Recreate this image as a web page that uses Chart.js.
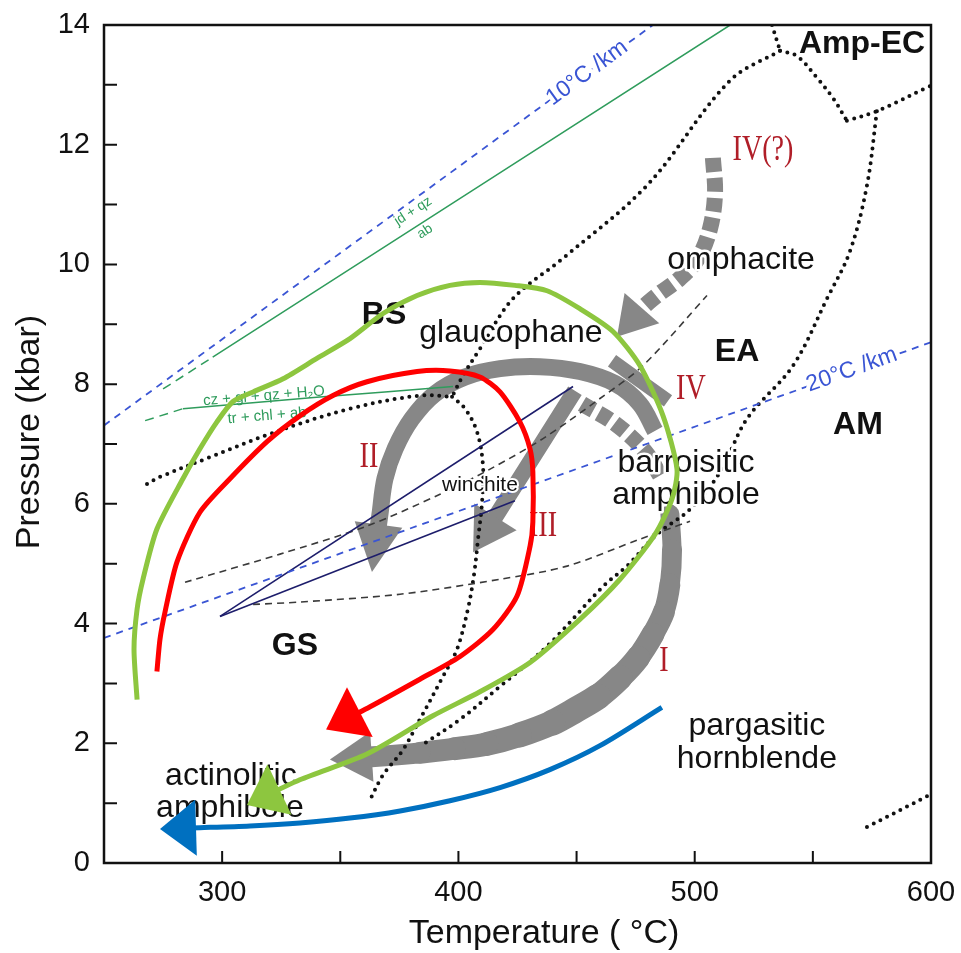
<!DOCTYPE html>
<html lang="en">
  <head>
    <meta charset="UTF-8" />
    <title>P-T paths</title>
    <script src="https://cdn.jsdelivr.net/npm/chart.js"></script>
    <style>
      html, body { margin: 0; padding: 0; background: #fff; }
    </style>
  </head>
  <body>
    <canvas id="ptChart" width="961" height="953"></canvas>

    <script>
      // all values are [temperature °C, pressure kbar]
      const tempTickLabels = [300, 400, 500, 600];
      const tempTickMarks = [300, 350, 400, 450, 500, 550];
      const pressureTickLabels = [0, 2, 4, 6, 8, 10, 12, 14];
      const pressureTickMarks = [1, 2, 3, 4, 5, 6, 7, 8, 9, 10, 11, 12, 13];

      // geotherms
      const geotherm10 = [[250, 7.31], [482.3, 14]];
      const geotherm20 = [[250, 3.76], [600, 8.7]];

      // reactions
      const jdQzAbDashed = [[275, 7.92], [296, 8.45]];
      const jdQzAb = [[296, 8.45], [515, 14]];
      const czGlDashed = [[267.4, 7.39], [283.4, 7.59]];
      const czGl = [[283.4, 7.59], [340, 7.78], [397.7, 7.96]];

      // facies boundaries (dotted)
      const bsGsDots = [[268.2, 6.33], [273.7, 6.45], [294.9, 6.78], [320.3, 7.17], [354.1, 7.59], [383.7, 7.81], [397.3, 7.79]];
      const winchiteDots = [[397.3, 7.79], [402.8, 7.59], [407.9, 7.2], [410.4, 6.63], [410.0, 6.03], [408.3, 5.41], [406.6, 4.82],
        [404.0, 4.24], [399.4, 3.57], [393.5, 3.12], [383.7, 2.4], [376.5, 1.89], [368.1, 1.47], [362.6, 1.06]];
      const bsEaDots = [[536.1, 13.57], [514.9, 13.07], [479.8, 11.32], [444.2, 10.1], [423.1, 9.43], [409.1, 8.59], [401.9, 8.14], [397.3, 7.79]];
      const ampEcTopDots = [[532.7, 14], [536.1, 13.57]];
      const ampEcLeftDots = [[536.1, 13.57], [543.3, 13.48], [551.7, 13.12], [558.5, 12.78], [564.4, 12.4]];
      const ampEcRightDots = [[564.4, 12.4], [577.1, 12.56], [599.6, 12.98]];
      const eaAmDots = [[577.1, 12.56], [572.9, 11.32], [565.7, 10.22], [556.0, 9.43], [541.6, 8.31], [522.1, 7.42], [510.7, 6.53],
        [498.0, 5.91], [484.0, 5.49], [471.3, 4.96], [461.2, 4.62], [437.5, 3.62], [417.6, 2.95], [400.7, 2.4], [385.0, 1.98]];
      const lowRightDots = [[572.9, 0.6], [599.6, 1.14]];

      // amphibole fields (thin dashed / navy)
      const dashUpper = [[284.3, 4.69], [324.5, 5.16], [361.3, 5.63], [392.2, 6.16], [413.4, 6.58], [435.8, 7.09], [459.9, 7.76], [478.1, 8.31], [505.2, 9.48]];
      const dashLower = [[313.1, 4.32], [332.9, 4.36], [375.3, 4.49], [417.6, 4.74], [446.0, 4.96], [476.8, 5.41], [498.0, 5.71]];
      const navyUpper = [[299.1, 4.12], [448.5, 7.96]];
      const navyLower = [[299.1, 4.12], [423.9, 6.05]];

      // grey P-T paths I-IV
      const pathIVq = [[507.7, 11.78], [508.6, 11.19], [506.5, 10.6], [501.4, 10.1], [493.8, 9.77], [484.0, 9.48], [476.8, 9.23], [467.1, 8.79]];
      const pathIVseg = [[465.0, 8.39], [488.7, 7.72]];
      const pathII = [[483.2, 7.22], [476.8, 7.67], [466.3, 8.01], [451.4, 8.21], [434.5, 8.29], [417.6, 8.26], [402.8, 8.12],
        [390.1, 7.84], [380.3, 7.42], [373.2, 6.92], [368.9, 6.42], [366.8, 5.83], [363.4, 4.86]];
      const pathIII = [[449.3, 7.89], [406.2, 5.19]];
      const pathIVdash = [[452.3, 7.67], [466.3, 7.34], [478.9, 6.88], [486.1, 6.42]];
      const pathI = [[489.5, 5.83], [490.4, 5.24], [489.5, 4.66], [487.0, 4.2], [482.3, 3.82], [476.0, 3.43], [468.4, 3.1],
        [459.1, 2.78], [449.3, 2.55], [440.0, 2.35], [426.0, 2.14], [412.1, 1.99], [398.5, 1.91], [383.7, 1.84], [368.9, 1.79],
        [345.6, 1.73]];

      // coloured paths
      const redPath = [[272.4, 3.2], [273.7, 3.74], [275.8, 4.19], [280.9, 5.03], [290.6, 5.86], [303.3, 6.42], [319.0, 7.04],
        [332.9, 7.47], [346.9, 7.81], [361.3, 8.04], [382.5, 8.21], [396.4, 8.22], [409.1, 8.12], [417.6, 7.87], [426.0, 7.37],
        [430.3, 6.92], [431.5, 6.53], [431.5, 5.7], [430.3, 5.29], [424.8, 4.46], [414.6, 3.9], [400.7, 3.45], [383.7, 3.07],
        [362.6, 2.61], [344.0, 2.23]];
      const greenPath = [[264.0, 2.73], [262.7, 3.57], [264.0, 4.24], [266.5, 4.74], [272.4, 5.58], [283.4, 6.42], [290.6, 6.92],
        [297.8, 7.37], [304.6, 7.71], [313.1, 7.87], [325.8, 8.09], [340.1, 8.43], [354.1, 8.76], [368.1, 9.18], [382.5, 9.48],
        [396.4, 9.65], [409.1, 9.7], [423.9, 9.65], [437.5, 9.56], [451.4, 9.26], [465.4, 8.88], [476.8, 8.31], [486.6, 7.47],
        [492.5, 6.58], [490.4, 6.08], [483.2, 5.49], [468.4, 4.74], [451.4, 4.07], [430.3, 3.35], [409.1, 2.86], [389.2, 2.46],
        [361.3, 1.82], [332.9, 1.39], [310.5, 0.97]];
      const bluePath = [[486.1, 2.6], [459.9, 1.96], [438.7, 1.56], [417.6, 1.26], [396.4, 1.04], [375.3, 0.87], [354.1, 0.75],
        [332.9, 0.67], [311.8, 0.62], [290.6, 0.59], [273.7, 0.57]];

      // text
      const faciesNames = ["Amp-EC", "BS", "EA", "AM", "GS"];
      const faciesAt = [[570.8, 13.53], [368.5, 9.01], [517.9, 8.39], [569.1, 7.17], [330.8, 3.48]];
      const mineralNames = ["omphacite", "glaucophane", "barroisitic", "amphibole", "pargasitic", "hornblende", "actinolitic", "amphibole"];
      const mineralAt = [[519.6, 9.93], [422.2, 8.71], [496.3, 6.53], [496.3, 6.0], [526.3, 2.14], [526.3, 1.59], [303.7, 1.31], [303.3, 0.77]];
      const winchiteAt = [409.1, 6.21];
      const stageNames = ["IV(?)", "IV", "II", "III", "I"];
      const stageAt = [[528.9, 11.74], [498.4, 7.76], [362.1, 6.62], [435.8, 5.46], [487.0, 3.2]];

      const SANS = '"Liberation Sans", Arial, sans-serif';

      function pts(arr) {
        return arr.map(([x, y]) => ({ x, y }));
      }
      function line(arr, style) {
        return Object.assign(
          { data: pts(arr), showLine: true, pointRadius: 0, pointHoverRadius: 0, fill: false, tension: 0 },
          style
        );
      }

      const dotted = { borderColor: "#111", borderWidth: 4, borderDash: [0, 7.5], borderCapStyle: "round", tension: 0.35, order: 20 };
      const thinDash = { borderColor: "#3a3a3a", borderWidth: 1.6, borderDash: [7, 5], tension: 0.3, order: 20 };
      const navy = { borderColor: "#1d1d6b", borderWidth: 1.6, order: 20 };
      const geo = { borderColor: "#3a55d4", borderWidth: 1.8, borderDash: [7, 6], order: 20 };
      const reacSolid = { borderColor: "#2f9c5c", borderWidth: 1.5, tension: 0.3, order: 20 };
      const reacDash = { borderColor: "#2f9c5c", borderWidth: 1.5, borderDash: [9, 6], order: 20 };
      const grey = { borderColor: "#878787", borderWidth: 18, tension: 0.35, borderJoinStyle: "round", order: 30 };

      // path I is thicker through its lower bend
      const pathIWidths = [19, 20, 21, 22, 23, 24, 25, 26, 26, 25, 24, 23, 22, 21, 21];

      const datasets = [
        line(bluePath, { borderColor: "#0070c0", borderWidth: 5, tension: 0.3, order: 1, head: { len: 36, width: 56 } }),
        line(greenPath, { borderColor: "#8dc63f", borderWidth: 5, tension: 0.25, order: 2, head: { len: 36, width: 56 } }),
        line(redPath, { borderColor: "#ff0000", borderWidth: 5, tension: 0.25, order: 3, head: { len: 38, width: 56 }, labelsBefore: true }),

        line(geotherm10, geo),
        line(geotherm20, geo),
        line(jdQzAbDashed, reacDash),
        line(jdQzAb, reacSolid),
        line(czGlDashed, reacDash),
        line(czGl, reacSolid),
        line(navyUpper, navy),
        line(navyLower, navy),
        line(dashUpper, thinDash),
        line(dashLower, thinDash),
        line(bsGsDots, dotted),
        line(winchiteDots, dotted),
        line(bsEaDots, dotted),
        line(ampEcTopDots, dotted),
        line(ampEcLeftDots, dotted),
        line(ampEcRightDots, dotted),
        line(eaAmDots, dotted),
        line(lowRightDots, dotted),

        line(pathIVq, Object.assign({}, grey, { borderWidth: 16, borderDash: [14, 6], head: { len: 38, width: 46 } })),
        line(pathIVseg, Object.assign({}, grey, { borderWidth: 14 })),
        line(pathII, Object.assign({}, grey, { borderWidth: 17, head: { len: 48, width: 48 } })),
        line(pathIII, Object.assign({}, grey, { borderWidth: 16, head: { len: 42, width: 50 } })),
        line(pathIVdash, Object.assign({}, grey, { borderWidth: 16, borderDash: [13, 6] })),
        line(pathI, Object.assign({}, grey, {
          borderWidth: 19,
          tension: 0.3,
          borderCapStyle: "round",
          segment: { borderWidth: (ctx) => pathIWidths[ctx.p0DataIndex] || 21 },
          head: { len: 42, width: 50 },
        })),
      ];

      function headGeom(meta, head) {
        const p = meta.data;
        const tip = p[p.length - 1];
        const prev = p[p.length - 2];
        let dx = tip.x - prev.x;
        let dy = tip.y - prev.y;
        const d = Math.hypot(dx, dy) || 1;
        dx /= d;
        dy /= d;
        return { tx: tip.x, ty: tip.y, bx: tip.x - dx * head.len, by: tip.y - dy * head.len, dx, dy, nx: -dy, ny: dx };
      }

      // cut the shaft off where the head begins so the tip stays sharp
      function clipHead(chart, meta, head, lw) {
        const g = headGeom(meta, head);
        const ctx = chart.ctx;
        const w = lw + 16;
        const sx = g.bx + g.dx * 3, sy = g.by + g.dy * 3;
        const f = head.len + 25;
        ctx.save();
        ctx.beginPath();
        ctx.rect(0, 0, chart.width, chart.height);
        ctx.moveTo(sx + g.nx * w, sy + g.ny * w);
        ctx.lineTo(sx + g.nx * w + g.dx * f, sy + g.ny * w + g.dy * f);
        ctx.lineTo(sx - g.nx * w + g.dx * f, sy - g.ny * w + g.dy * f);
        ctx.lineTo(sx - g.nx * w, sy - g.ny * w);
        ctx.closePath();
        ctx.clip("evenodd");
      }

      function drawHead(chart, meta, head, color) {
        const g = headGeom(meta, head);
        const ctx = chart.ctx;
        const h = head.width / 2;
        ctx.save();
        ctx.fillStyle = color;
        ctx.beginPath();
        ctx.moveTo(g.tx, g.ty);
        ctx.lineTo(g.bx + g.nx * h, g.by + g.ny * h);
        ctx.lineTo(g.bx - g.nx * h, g.by - g.ny * h);
        ctx.closePath();
        ctx.fill();
        ctx.restore();
      }

      function drawLabels(chart) {
        const { ctx } = chart;
        const x = chart.scales.x, y = chart.scales.y;
        const px = (t) => x.getPixelForValue(t);
        const py = (p) => y.getPixelForValue(p);
        ctx.save();
        ctx.textAlign = "center";
        ctx.textBaseline = "alphabetic";
        ctx.lineJoin = "round";

        const put = (text, at, font, color, halo) => {
          ctx.font = font;
          if (halo) {
            ctx.strokeStyle = "#fff";
            ctx.lineWidth = halo;
            ctx.strokeText(text, px(at[0]), py(at[1]));
          }
          ctx.fillStyle = color;
          ctx.fillText(text, px(at[0]), py(at[1]));
        };

        faciesNames.forEach((s, i) => put(s, faciesAt[i], "bold 32px " + SANS, "#111", 5));
        mineralNames.forEach((s, i) => put(s, mineralAt[i], "32px " + SANS, "#111", 5));
        put("winchite", winchiteAt, "21px " + SANS, "#111", 4);

        // roman numerals: narrow red serif
        stageNames.forEach((s, i) => {
          ctx.save();
          ctx.translate(px(stageAt[i][0]), py(stageAt[i][1]));
          ctx.scale(0.78, 1);
          ctx.font = '36px "Liberation Serif", "Times New Roman", serif';
          ctx.fillStyle = "#b01e28";
          ctx.fillText(s, 0, 0);
          ctx.restore();
        });

        // text running along a line
        const along = (text, at, ln, font, color, halo) => {
          const a = Math.atan2(py(ln[ln.length - 1][1]) - py(ln[0][1]), px(ln[ln.length - 1][0]) - px(ln[0][0]));
          ctx.save();
          ctx.translate(px(at[0]), py(at[1]));
          ctx.rotate(a);
          ctx.font = font;
          ctx.textBaseline = "middle";
          if (halo) {
            ctx.strokeStyle = "#fff";
            ctx.lineWidth = halo;
            ctx.strokeText(text, 0, 0);
          }
          ctx.fillStyle = color;
          ctx.fillText(text, 0, 0);
          ctx.restore();
        };
        along("10°C /km", [454.4, 13.2], geotherm10, "23px " + SANS, "#3a55d4", 8);
        along("20°C /km", [566.5, 8.24], geotherm20, "23px " + SANS, "#3a55d4", 8);
        along("jd + qz", [380.8, 10.89], jdQzAb, "14px " + SANS, "#2f9c5c", 0);
        along("ab", [385.8, 10.55], jdQzAb, "14px " + SANS, "#2f9c5c", 0);
        along("cz + gl + qz + H\u2082O", [317.7, 7.8], czGl, "15px " + SANS, "#2f9c5c", 0);
        along("tr + chl + ab", [319.0, 7.47], czGl, "15px " + SANS, "#2f9c5c", 0);
        ctx.restore();
      }

      function drawAxes(chart) {
        const { ctx, chartArea: ca } = chart;
        const x = chart.scales.x, y = chart.scales.y;
        ctx.save();
        ctx.strokeStyle = "#111";
        ctx.lineWidth = 2.5;
        ctx.strokeRect(ca.left, ca.top, ca.right - ca.left, ca.bottom - ca.top);

        // inward ticks
        ctx.lineWidth = 2;
        ctx.beginPath();
        pressureTickMarks.forEach((p) => {
          const yy = y.getPixelForValue(p);
          ctx.moveTo(ca.left, yy);
          ctx.lineTo(ca.left + 13, yy);
        });
        tempTickMarks.forEach((t) => {
          const xx = x.getPixelForValue(t);
          ctx.moveTo(xx, ca.bottom);
          ctx.lineTo(xx, ca.bottom - 12);
        });
        ctx.stroke();

        ctx.fillStyle = "#111";
        ctx.font = "29px " + SANS;
        ctx.textAlign = "right";
        ctx.textBaseline = "middle";
        pressureTickLabels.forEach((p) => ctx.fillText(String(p), ca.left - 14, y.getPixelForValue(p)));
        ctx.textAlign = "center";
        ctx.textBaseline = "alphabetic";
        tempTickLabels.forEach((t) => ctx.fillText(String(t), x.getPixelForValue(t), ca.bottom + 38));

        ctx.font = "34px " + SANS;
        ctx.fillText("Temperature ( °C)", ca.left + 440, ca.bottom + 80);
        ctx.translate(30, (ca.top + ca.bottom) / 2 - 12);
        ctx.rotate(-Math.PI / 2);
        ctx.textBaseline = "middle";
        ctx.fillText("Pressure (kbar)", 0, 0);
        ctx.restore();
      }

      const ptDecor = {
        id: "ptDecor",
        beforeDatasetDraw(chart, args) {
          const ds = chart.data.datasets[args.index];
          if (ds.labelsBefore) drawLabels(chart);
          if (ds.head) clipHead(chart, args.meta, ds.head, ds.borderWidth);
        },
        afterDatasetDraw(chart, args) {
          const ds = chart.data.datasets[args.index];
          if (ds.head) {
            chart.ctx.restore();
            drawHead(chart, args.meta, ds.head, ds.borderColor);
          }
        },
        afterDraw(chart) {
          drawAxes(chart);
        },
      };

      new Chart(document.getElementById("ptChart"), {
        type: "scatter",
        data: { datasets: datasets },
        options: {
          responsive: false,
          animation: false,
          events: [],
          layout: { padding: { left: 0, top: 25, right: 30, bottom: 0 } },
          plugins: { legend: { display: false }, tooltip: { enabled: false } },
          scales: {
            x: {
              type: "linear",
              min: 250,
              max: 600,
              grid: { display: false },
              border: { display: false },
              ticks: { display: false },
              afterFit(scale) {
                scale.height = 90;
              },
            },
            y: {
              type: "linear",
              min: 0,
              max: 14,
              grid: { display: false },
              border: { display: false },
              ticks: { display: false },
              afterFit(scale) {
                scale.width = 104;
              },
            },
          },
        },
        plugins: [ptDecor],
      });
    </script>
  </body>
</html>
